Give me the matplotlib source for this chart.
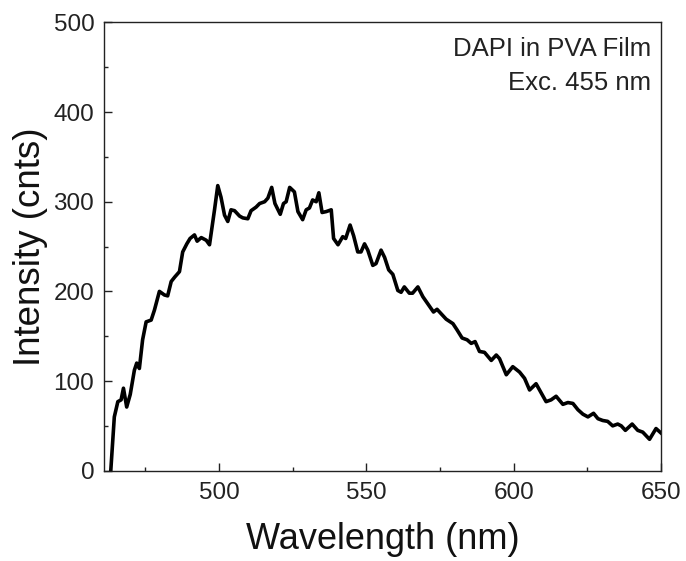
import matplotlib
matplotlib.use("Agg")
import matplotlib.pyplot as plt
from matplotlib.ticker import MultipleLocator

plt.rcParams['font.family'] = ['Liberation Sans', 'DejaVu Sans']

wavelength = [463.3, 464.5, 465.7, 466.8, 467.6, 468.7, 469.9, 471.3, 472.1, 473.0,
              474.1, 475.3, 477.0, 478.1, 479.8, 481.5, 482.6, 483.8, 485.0, 486.6,
              487.7, 489.1, 490.2, 491.7, 492.6, 494.0, 495.7, 496.8, 498.5, 499.6,
              500.7, 501.9, 503.0, 504.1, 505.3, 507.0, 508.1, 509.8, 510.9, 512.6,
              513.8, 515.5, 516.6, 517.9, 519.0, 520.8, 521.9, 522.8, 524.0, 525.6,
              526.8, 528.4, 529.6, 530.7, 531.8, 533.0, 533.9, 535.0, 536.4, 538.1,
              538.9, 540.4, 542.0, 543.0, 544.5, 545.7, 547.1, 548.2, 549.4, 550.5,
              552.2, 553.3, 555.0, 556.2, 557.6, 559.0, 560.7, 561.8, 562.9, 564.6,
              565.7, 567.5, 569.2, 570.9, 572.8, 574.0, 575.4, 577.1, 579.4, 580.8,
              582.5, 584.2, 585.6, 586.9, 588.4, 590.1, 592.4, 594.1, 595.2, 597.5,
              599.7, 602.0, 603.7, 605.4, 607.6, 608.8, 611.0, 612.7, 614.4, 616.7,
              618.4, 620.1, 621.8, 623.5, 625.2, 627.1, 628.6, 630.2, 631.9, 633.6,
              635.3, 636.5, 637.9, 640.2, 642.1, 643.8, 646.1, 648.3, 650.0]
intensity = [0, 60, 77, 79, 92, 71, 85, 112, 120, 114,
             146, 166, 168, 179, 200, 196, 195, 211, 216, 222,
             244, 253, 259, 263, 256, 260, 257, 252, 291, 318,
             305, 285, 278, 291, 290, 284, 282, 281, 290, 294,
             298, 300, 304, 316, 298, 286, 298, 300, 316, 311,
             289, 280, 291, 293, 302, 300, 310, 288, 289, 291,
             259, 252, 261, 259, 274, 262, 244, 244, 253, 246,
             229, 231, 246, 238, 224, 219, 201, 199, 205, 198,
             198, 205, 194, 186, 177, 180, 175, 169, 164, 157,
             148, 146, 142, 144, 133, 132, 123, 129, 125, 107,
             116, 110, 103, 90, 97, 90, 77, 79, 83, 74,
             76, 75, 68, 63, 60, 64, 58, 56, 55, 50,
             52, 50, 45, 52, 45, 43, 35, 47, 42]

x_label = "Wavelength (nm)"
y_label = "Intensity (cnts)"
annotation = ["DAPI in PVA Film", "Exc. 455 nm"]

fig = plt.figure(figsize=(6.86, 5.61), dpi=100)
ax = fig.add_axes([0.1516, 0.161, 0.812, 0.799])
ax.plot(wavelength, intensity, color='black', lw=2.6, solid_joinstyle='round')
ax.set_xlim(461, 650)
ax.set_ylim(0, 500)
ax.xaxis.set_major_locator(MultipleLocator(50))
ax.xaxis.set_minor_locator(MultipleLocator(25))
ax.yaxis.set_major_locator(MultipleLocator(100))
ax.yaxis.set_minor_locator(MultipleLocator(50))
ax.tick_params(which='both', direction='in', top=False, right=False, width=1.0,
               labelsize=17.5, colors='#222222')
ax.tick_params(which='major', length=5.5)
ax.tick_params(which='minor', length=3)
ax.tick_params(axis='y', which='major', pad=7)
ax.tick_params(axis='x', which='major', pad=8)
for s in ax.spines.values():
    s.set_linewidth(1.0)
    s.set_color('#222222')
ax.set_xlabel(x_label, fontsize=26, labelpad=13, color='#111111')
ax.set_ylabel(y_label, fontsize=26.5, labelpad=4, color='#111111')
ax.text(0.983, 0.968, annotation[0] + "\n" + annotation[1], transform=ax.transAxes,
        ha='right', va='top', fontsize=18.5, linespacing=1.55, color='#222222')
fig.savefig("out.png", dpi=100)
